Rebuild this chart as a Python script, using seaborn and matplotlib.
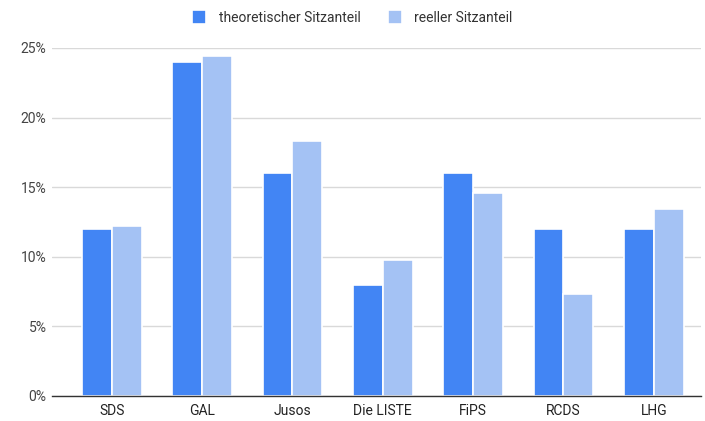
import matplotlib
matplotlib.use("Agg")
import matplotlib.pyplot as plt
import seaborn as sns
import pandas as pd
from matplotlib.ticker import PercentFormatter

parties = ["SDS", "GAL", "Jusos", "Die LISTE", "FiPS", "RCDS", "LHG"]
theoretisch = [12.0, 24.0, 16.0, 8.0, 16.0, 12.0, 12.0]
reell = [12.2, 24.4, 18.3, 9.76, 14.6, 7.3, 13.4]
series = ["theoretischer Sitzanteil", "reeller Sitzanteil"]
colors = ["#4285F4", "#A4C2F4"]

df = pd.DataFrame({
    "Partei": parties * 2,
    "Anteil": [v / 100 for v in theoretisch + reell],
    "Serie": [series[0]] * len(parties) + [series[1]] * len(parties),
})

sns.set_style("white")
plt.rcParams["font.family"] = ["Roboto", "DejaVu Sans"]

fig = plt.figure(figsize=(7.05, 4.21), dpi=100)
ax = fig.add_axes([0.074, 0.0594, 0.92, 0.8266])
sns.barplot(data=df, x="Partei", y="Anteil", hue="Serie", palette=colors,
            saturation=1, width=0.66, edgecolor="white", linewidth=1.2, ax=ax,
            legend=True)

ax.set_ylim(0, 0.25)
ax.set_xlim(-0.66, 6.52)
ax.set_yticks([0, 0.05, 0.10, 0.15, 0.20, 0.25])
ax.yaxis.set_major_formatter(PercentFormatter(1.0, decimals=0))
ax.grid(axis="y", color="#d9d9d9", linewidth=1)
ax.set_axisbelow(True)
for s in ["top", "right", "left"]:
    ax.spines[s].set_visible(False)
ax.spines["bottom"].set_color("#333333")
ax.spines["bottom"].set_linewidth(1)
ax.set_xlabel("")
ax.set_ylabel("")
ax.tick_params(axis="both", length=0, labelsize=10, colors="#444444")
ax.tick_params(axis="x", pad=6, labelcolor="#222222")
ax.tick_params(axis="y", pad=4)

ax.legend(loc="upper center", bbox_to_anchor=(0.5 - 0.037, 1.145), ncol=2, frameon=False,
          fontsize=10, handlelength=1.0, handleheight=1.2, columnspacing=2.0,
          handletextpad=0.9, labelcolor="#333333")

fig.savefig("out.png", dpi=100)
